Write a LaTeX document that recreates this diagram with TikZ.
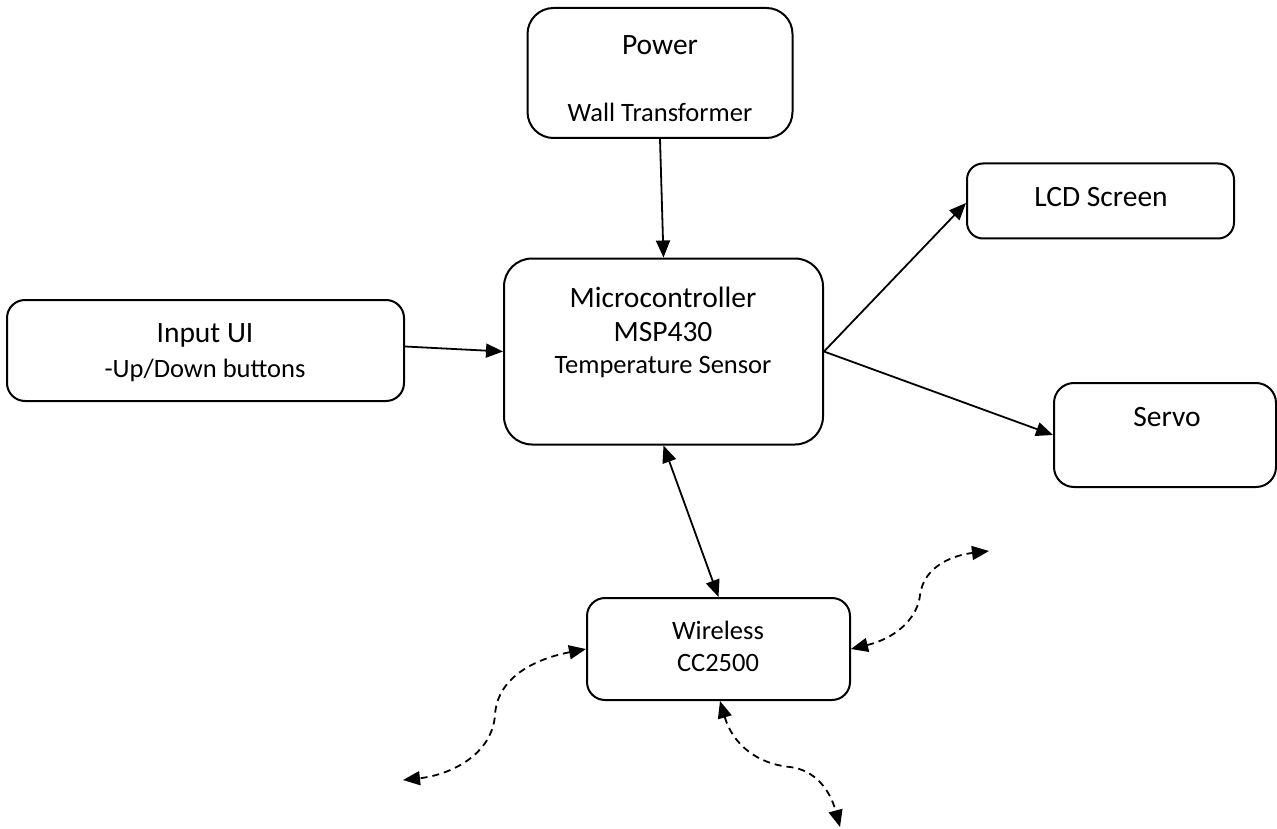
\documentclass[tikz,border=0pt]{standalone}
\usepackage{fontspec}
\setmainfont{Carlito}
\usetikzlibrary{arrows.meta}
\begin{document}
\begin{tikzpicture}[x=1pt,y=-1pt,
  box/.style={draw, line width=2pt, inner sep=0pt},
  big/.style={font=\fontsize{29.5}{29.5}\selectfont, inner sep=0pt},
  small/.style={font=\fontsize{26.5}{26.5}\selectfont, inner sep=0pt},
  conn/.style={line width=1.8pt, -{Triangle[length=17pt,width=14pt]}},
  bconn/.style={line width=1.8pt, {Triangle[length=17pt,width=14pt]}-{Triangle[length=17pt,width=14pt]}},
  wave/.style={line width=1.8pt, dash pattern=on 7pt off 5pt, {Triangle[length=17pt,width=14pt]}-{Triangle[length=17pt,width=14pt]}}]
\useasboundingbox (0,0) rectangle (1277,829);
\fill[white] (0,0) rectangle (1277,829);

% boxes
\node[box, rounded corners=26pt, minimum width=265pt, minimum height=130pt] (power) at (660,73) {};
\node[box, rounded corners=28pt, minimum width=319pt, minimum height=186pt] (micro) at (663.5,351.5) {};
\node[box, rounded corners=18pt, minimum width=397pt, minimum height=101pt] (input) at (205.5,350.5) {};
\node[box, rounded corners=16pt, minimum width=267pt, minimum height=75pt] (lcd) at (1100.5,201) {};
\node[box, rounded corners=20pt, minimum width=222pt, minimum height=104pt] (servo) at (1165,435) {};
\node[box, rounded corners=18pt, minimum width=263pt, minimum height=102pt] (wireless) at (718.5,649) {};

% texts
\node[big] (powert) at (660,45) {Power};
\node[small] (powers) at (660,112) {Wall Transformer};
\node[big] (microt) at (663,297) {Microcontroller};
\node[big] (microm) at (663,332) {MSP430};
\node[small] (micros) at (663,367) {Temperature Sensor};
\node[big] (inputt) at (205,335) {Input UI};
\node[small] (inputs) at (205,370) {-Up/Down buttons};
\node[big] (lcdt) at (1101,197) {LCD Screen};
\node[big] (servot) at (1167,417) {Servo};
\node[small] (wirelesst) at (718,630) {Wireless};
\node[small] (wirelessc) at (718,663) {CC2500};

% connectors
\draw[conn] (power.south) -- (micro.north);
\draw[conn] ([yshift=4pt]input.east) -- (micro.west);
\draw[conn] (micro.east) -- ([yshift=-2pt]lcd.west);
\draw[conn] (micro.east) -- (servo.west);
\draw[bconn] (micro.south) -- (wireless.north);

% wireless links
\coordinate (w1) at (403,780);
\coordinate (w2) at (989,551);
\coordinate (w3) at (840,827);
\coordinate (m1) at (495,715);
\coordinate (m2) at (920,595);
\coordinate (m3) at (790,767);
\draw[wave] (wireless.west) .. controls (530,660) and (497,680) .. (m1)
  .. controls (492,755) and (450,775) .. (w1);
\draw[wave] (wireless.east) .. controls (900,637) and (918,615) .. (m2)
  .. controls (924,565) and (955,555) .. (w2);
\draw[wave] ([xshift=1.5pt]wireless.south) .. controls (733,745) and (758,764) .. (m3)
  .. controls (815,770) and (830,790) .. (w3);
\end{tikzpicture}
\end{document}
